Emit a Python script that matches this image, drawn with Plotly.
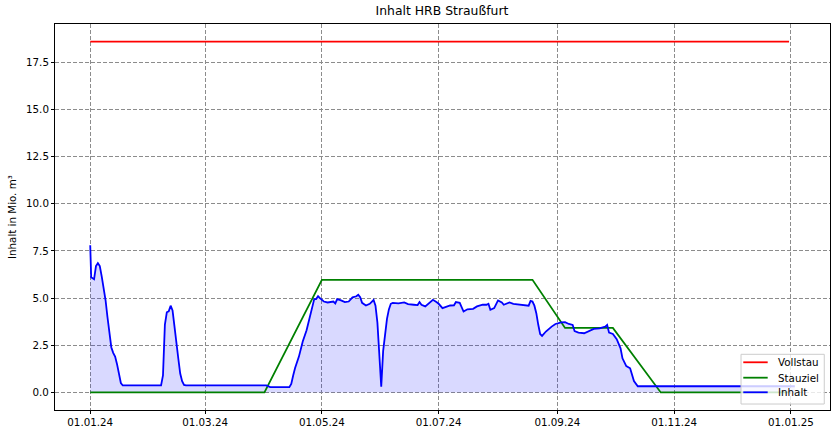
import plotly.graph_objects as go

# ---------------- data ----------------
vollstau_dates = ["2024-01-01", "2024-12-31"]
vollstau_values = [18.6, 18.6]

stauziel_dates = ["2024-01-01", "2024-04-01", "2024-05-01", "2024-08-19",
                  "2024-09-05", "2024-09-30", "2024-10-25", "2024-12-31"]
stauziel_values = [0.0, 0.0, 5.97, 5.97, 3.42, 3.42, 0.0, 0.0]

inhalt_dates = [
    "2024-01-01 00:00", "2024-01-01 12:00", "2024-01-03", "2024-01-04", "2024-01-05",
    "2024-01-06", "2024-01-07", "2024-01-09", "2024-01-10", "2024-01-11",
    "2024-01-12", "2024-01-13", "2024-01-14", "2024-01-15", "2024-01-16",
    "2024-01-17", "2024-01-18", "2024-02-07", "2024-02-08", "2024-02-09",
    "2024-02-10", "2024-02-11", "2024-02-12", "2024-02-13", "2024-02-14",
    "2024-02-15", "2024-02-16", "2024-02-17", "2024-02-18", "2024-02-19",
    "2024-02-20", "2024-04-02", "2024-04-04", "2024-04-14", "2024-04-15",
    "2024-04-16", "2024-04-17", "2024-04-19", "2024-04-21", "2024-04-23",
    "2024-04-25", "2024-04-27", "2024-04-28", "2024-04-29", "2024-04-30",
    "2024-05-02", "2024-05-04", "2024-05-06", "2024-05-07", "2024-05-08",
    "2024-05-09", "2024-05-11", "2024-05-13", "2024-05-15", "2024-05-17",
    "2024-05-19", "2024-05-20", "2024-05-21", "2024-05-22", "2024-05-24",
    "2024-05-26", "2024-05-28", "2024-05-29", "2024-05-30", "2024-05-31",
    "2024-06-01", "2024-06-02", "2024-06-03", "2024-06-04", "2024-06-05",
    "2024-06-06", "2024-06-07", "2024-06-10", "2024-06-13", "2024-06-15",
    "2024-06-18", "2024-06-20", "2024-06-21", "2024-06-22", "2024-06-24",
    "2024-06-26", "2024-06-27", "2024-06-28", "2024-06-30", "2024-07-01",
    "2024-07-03", "2024-07-05", "2024-07-07", "2024-07-09", "2024-07-10",
    "2024-07-12", "2024-07-13", "2024-07-14", "2024-07-16", "2024-07-19",
    "2024-07-21", "2024-07-24", "2024-07-26", "2024-07-27", "2024-07-28",
    "2024-07-30", "2024-08-01", "2024-08-03", "2024-08-04", "2024-08-07",
    "2024-08-09", "2024-08-12", "2024-08-15", "2024-08-17", "2024-08-18",
    "2024-08-19", "2024-08-20", "2024-08-21", "2024-08-22", "2024-08-23",
    "2024-08-24", "2024-08-26", "2024-08-29", "2024-08-31", "2024-09-03",
    "2024-09-05", "2024-09-07", "2024-09-09", "2024-09-10", "2024-09-12",
    "2024-09-15", "2024-09-18", "2024-09-20", "2024-09-23", "2024-09-26",
    "2024-09-27", "2024-09-28", "2024-09-30", "2024-10-02", "2024-10-04",
    "2024-10-05", "2024-10-07", "2024-10-09", "2024-10-11", "2024-10-13",
    "2025-01-03",
]
inhalt_values = [
    7.8, 6.1, 6.0, 6.7, 6.85,
    6.7, 6.15, 4.9, 4.0, 3.3,
    2.4, 2.1, 1.9, 1.5, 0.9,
    0.5, 0.37, 0.37, 0.9, 3.6,
    4.25, 4.3, 4.6, 4.35, 3.5,
    2.5, 1.8, 1.0, 0.6, 0.4,
    0.37, 0.37, 0.28, 0.28, 0.45,
    0.9, 1.3, 1.9, 2.7, 3.3,
    4.1, 4.95, 4.95, 5.1, 5.0,
    4.82, 4.77, 4.79, 4.82, 4.72,
    4.95, 4.88, 4.79, 4.82, 5.04,
    5.1, 5.18, 5.05, 4.75, 4.61,
    4.7, 4.9, 4.6, 3.7, 1.6,
    0.3, 2.2, 3.2, 3.9, 4.4,
    4.7, 4.75, 4.72, 4.77, 4.68,
    4.65, 4.63, 4.79, 4.65, 4.56,
    4.72, 4.8, 4.91, 4.78, 4.7,
    4.47, 4.56, 4.61, 4.62, 4.79,
    4.75, 4.56, 4.29, 4.41, 4.43,
    4.56, 4.65, 4.65, 4.7, 4.38,
    4.47, 4.88, 4.77, 4.65, 4.77,
    4.7, 4.66, 4.65, 4.6, 4.85,
    4.82, 4.6, 4.2, 3.6, 3.1,
    3.0, 3.23, 3.49, 3.63, 3.71,
    3.72, 3.63, 3.58, 3.25, 3.17,
    3.14, 3.26, 3.37, 3.4, 3.49,
    3.58, 3.17, 3.1, 2.82, 2.34,
    1.81, 1.4, 1.28, 0.6, 0.33,
    0.33,
]

series_names = ["Vollstau", "Stauziel", "Inhalt"]
series_colors = ["red", "green", "blue"]

x_tick_dates = ["2024-01-01", "2024-03-01", "2024-05-01", "2024-07-01",
                "2024-09-01", "2024-11-01", "2025-01-01"]

# ---------------- figure ----------------
fig = go.Figure()

fig.add_trace(go.Scatter(
    x=inhalt_dates, y=inhalt_values, mode="none", fill="tozeroy",
    fillcolor="rgba(0,0,255,0.15)", showlegend=False, hoverinfo="skip"))

series_x = [vollstau_dates, stauziel_dates, inhalt_dates]
series_y = [vollstau_values, stauziel_values, inhalt_values]
for name, color, xs, ys in zip(series_names, series_colors, series_x, series_y):
    fig.add_trace(go.Scatter(x=xs, y=ys, mode="lines", name=name,
                             showlegend=False,
                             line=dict(color=color, width=1.8)))

# matplotlib-like legend box (lower right, inside the axes)
shapes = [dict(type="rect", xref="paper", yref="paper",
               x0=0.8852, x1=0.9926, y0=0.0155, y1=0.1443,
               fillcolor="rgba(255,255,255,0.8)",
               line=dict(color="#cccccc", width=1), layer="above")]
annotations = []
legend_rows_y = [0.1236, 0.0837, 0.0459]
for name, color, ly in zip(series_names, series_colors, legend_rows_y):
    shapes.append(dict(type="line", xref="paper", yref="paper",
                       x0=0.8881, x1=0.9196, y0=ly, y1=ly,
                       line=dict(color=color, width=1.8), layer="above"))
    annotations.append(dict(text=name, xref="paper", yref="paper",
                            x=0.9303, y=ly, xanchor="left", yanchor="middle",
                            showarrow=False,
                            font=dict(size=10.3, color="black")))

# y axis label
annotations.append(dict(text="Inhalt in Mio. m³", xref="paper", yref="paper",
                        x=-0.0555, y=0.5, xanchor="center", yanchor="middle",
                        textangle=-90, showarrow=False,
                        font=dict(size=10.3, color="black")))

axis_common = dict(
    showline=True, linecolor="black", linewidth=1, mirror=True,
    showgrid=True, gridcolor="#8c8c8c", griddash="4px,2px", gridwidth=1,
    ticks="outside", ticklen=3, tickcolor="black", tickwidth=1,
    zeroline=False, tickfont=dict(size=10.3, color="black"),
    automargin=False,
)

fig.update_layout(
    width=837, height=435,
    margin=dict(l=55, r=7, t=24, b=25),
    paper_bgcolor="white", plot_bgcolor="white",
    font=dict(family="DejaVu Sans", color="black"),
    title=dict(text="Inhalt HRB Straußfurt", x=0.5281, xanchor="center",
               y=0.975, yanchor="middle", font=dict(size=12.4)),
    showlegend=False,
    hovermode=False,
    shapes=shapes,
    annotations=annotations,
    xaxis=dict(axis_common,
               range=["2023-12-13 14:24", "2025-01-21 09:36"],
               tickvals=x_tick_dates, tickformat="%d.%m.%y"),
    yaxis=dict(axis_common,
               range=[-0.93, 19.53], tick0=0, dtick=2.5, tickformat=".1f"),
)

# remove the browser's default 8px body margin so the figure fills the window
fig.write_html("out.html",
               config={"displayModeBar": False},
               post_script="document.body.style.margin='0';"
                           "document.body.style.overflow='hidden';")
